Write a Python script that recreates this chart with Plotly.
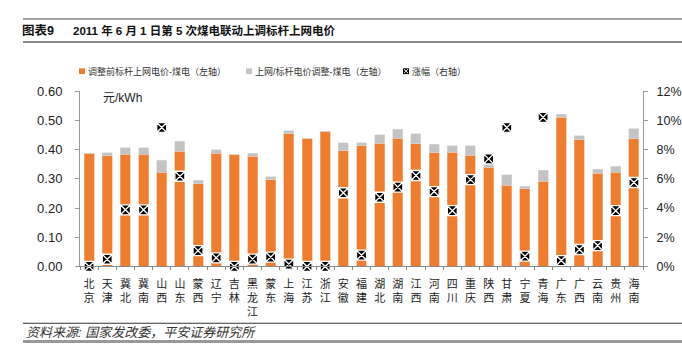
import plotly.graph_objects as go

W, H = 682, 360

provinces = ["北京", "天津", "冀北", "冀南", "山西", "山东", "蒙西", "辽宁", "吉林", "黑龙江",
             "蒙东", "上海", "江苏", "浙江", "安徽", "福建", "湖北", "湖南", "江西", "河南",
             "四川", "重庆", "陕西", "甘肃", "宁夏", "青海", "广东", "广西", "云南", "贵州", "海南"]

price_before = [0.387, 0.379, 0.385, 0.385, 0.323, 0.395, 0.283, 0.388, 0.382, 0.378,
                0.297, 0.455, 0.438, 0.464, 0.396, 0.413, 0.422, 0.439, 0.420, 0.389,
                0.392, 0.381, 0.340, 0.279, 0.266, 0.292, 0.512, 0.434, 0.320, 0.322, 0.437]

price_adjust = [0.000, 0.011, 0.022, 0.022, 0.040, 0.034, 0.012, 0.011, 0.000, 0.010,
                0.011, 0.010, 0.000, 0.000, 0.028, 0.010, 0.030, 0.031, 0.034, 0.029,
                0.022, 0.032, 0.047, 0.035, 0.009, 0.038, 0.009, 0.014, 0.013, 0.022, 0.034]

increase_pct = [0.0, 0.49, 3.88, 3.88, 9.52, 6.18, 1.08, 0.59, 0.0, 0.50,
                0.64, 0.16, 0.0, 0.0, 5.05, 0.77, 4.74, 5.44, 6.23, 5.13,
                3.82, 5.95, 7.37, 9.52, 0.70, 10.22, 0.40, 1.16, 1.43, 3.82, 5.75]

left_ticks = [0.0, 0.1, 0.2, 0.3, 0.4, 0.5, 0.6]
right_ticks = [0, 2, 4, 6, 8, 10, 12]
right_ticktext = ["0%", "2%", "4%", "6%", "8%", "10%", "12%"]

title_no = "图表9"
title_main = "2011 年 6 月 1 日第 5 次煤电联动上调标杆上网电价"
legend_names = ["调整前标杆上网电价-煤电（左轴）", "上网/标杆电价调整-煤电（左轴）", "涨幅（右轴）"]
unit_label = "元/kWh"
source_text = "资料来源: 国家发改委，平安证券研究所"

ORANGE = "#ED7D31"
GRAY = "#C3C3C3"
FONT = "Liberation Sans, Arial, Noto Sans CJK SC, sans-serif"

# plot area in pixels
PL, PR, PT, PB = 80, 643, 88, 270.7


def px(x):
    return x / W


def py(y):
    return 1 - y / H


fig = go.Figure()
fig.add_trace(go.Bar(x=provinces, y=price_before, name=legend_names[0],
                     marker=dict(color=ORANGE, line=dict(color="#F6B58C", width=0.6))))
fig.add_trace(go.Bar(x=provinces, y=price_adjust, name=legend_names[1],
                     marker=dict(color=GRAY, line=dict(color="#DADADA", width=0.6))))
fig.add_trace(go.Scatter(x=provinces, y=increase_pct, name=legend_names[2], yaxis="y2",
                         mode="markers", cliponaxis=False,
                         marker=dict(symbol="square-x", size=10, color="black",
                                     line=dict(color="white", width=1.3))))

ticktext = ["<br>".join(list(p)) for p in provinces]

fig.update_layout(
    width=W, height=H, autosize=False,
    margin=dict(l=0, r=0, t=0, b=0),
    paper_bgcolor="white", plot_bgcolor="white",
    barmode="stack", bargap=0.45,
    showlegend=False,
    font=dict(family=FONT, size=12, color="#222"),
    xaxis=dict(domain=[px(PL), px(PR)], range=[-0.5, len(provinces) - 0.5],
               tickmode="array", tickvals=provinces, ticktext=ticktext,
               tickangle=0, tickfont=dict(size=11, color="#222"),
               showline=True, linecolor="#888", linewidth=1,
               ticks="outside", tickson="boundaries", ticklen=3, tickcolor="#888",
               ticklabelstandoff=7,
               showgrid=False, zeroline=False, fixedrange=True, anchor="y"),
    yaxis=dict(domain=[py(PB), py(PT)], range=[0, 0.6], tickvals=left_ticks, tickformat=".2f",
               tickfont=dict(size=13, color="#222"),
               showline=True, linecolor="#999", linewidth=1,
               ticks="outside", ticklen=4, tickcolor="#999", ticklabelstandoff=10,
               showgrid=False, zeroline=False),
    yaxis2=dict(domain=[py(PB), py(PT)], range=[0, 12], overlaying="y", side="right", anchor="x",
                tickmode="array", tickvals=right_ticks, ticktext=right_ticktext,
                tickfont=dict(size=12.5, color="#222"),
                showline=True, linecolor="#999", linewidth=1,
                ticks="outside", ticklen=4, tickcolor="#999", ticklabelstandoff=6,
                showgrid=False, zeroline=False),
)

shapes = []
# header / footer rules
shapes.append(dict(type="line", xref="paper", yref="paper", x0=px(23), x1=1, y0=py(12.5), y1=py(12.5),
                   line=dict(color="#444", width=1)))
shapes.append(dict(type="line", xref="paper", yref="paper", x0=px(23), x1=1, y0=py(36.5), y1=py(36.5),
                   line=dict(color="#888", width=2)))
shapes.append(dict(type="line", xref="paper", yref="paper", x0=px(23), x1=1, y0=py(330), y1=py(330),
                   line=dict(color="#333", width=1)))
shapes.append(dict(type="line", xref="paper", yref="paper", x0=px(23), x1=1, y0=py(349), y1=py(349),
                   line=dict(color="#999", width=3)))

# manual legend symbols
LY = 67
shapes.append(dict(type="rect", xref="paper", yref="paper", x0=px(79), x1=px(85), y0=py(LY + 3), y1=py(LY - 3),
                   fillcolor=ORANGE, line=dict(width=0)))
shapes.append(dict(type="rect", xref="paper", yref="paper", x0=px(246), x1=px(252), y0=py(LY + 3), y1=py(LY - 3),
                   fillcolor=GRAY, line=dict(width=0)))
shapes.append(dict(type="rect", xref="paper", yref="paper", x0=px(403), x1=px(409), y0=py(LY + 3), y1=py(LY - 3),
                   fillcolor="black", line=dict(width=0)))
shapes.append(dict(type="line", xref="paper", yref="paper", x0=px(404), x1=px(408), y0=py(LY + 2), y1=py(LY - 2),
                   line=dict(color="white", width=1)))
shapes.append(dict(type="line", xref="paper", yref="paper", x0=px(404), x1=px(408), y0=py(LY - 2), y1=py(LY + 2),
                   line=dict(color="white", width=1)))
fig.update_layout(shapes=shapes)

ann = []
ann.append(dict(text="<b>" + title_no + "</b>", x=px(20), y=py(25), xref="paper", yref="paper",
                xanchor="left", yanchor="middle", showarrow=False, font=dict(size=12.5, color="#111")))
ann.append(dict(text="<b>" + title_main + "</b>", x=px(71), y=py(25), xref="paper", yref="paper",
                xanchor="left", yanchor="middle", showarrow=False, font=dict(size=11.5, color="#111")))
ann.append(dict(text=legend_names[0], x=px(86), y=py(LY), xref="paper", yref="paper",
                xanchor="left", yanchor="middle", showarrow=False, font=dict(size=9, color="#333")))
ann.append(dict(text=legend_names[1], x=px(253), y=py(LY), xref="paper", yref="paper",
                xanchor="left", yanchor="middle", showarrow=False, font=dict(size=9, color="#333")))
ann.append(dict(text=legend_names[2], x=px(410), y=py(LY), xref="paper", yref="paper",
                xanchor="left", yanchor="middle", showarrow=False, font=dict(size=9, color="#333")))
ann.append(dict(text=unit_label, x=px(101), y=py(95), xref="paper", yref="paper",
                xanchor="left", yanchor="middle", showarrow=False, font=dict(size=12, color="#222")))
ann.append(dict(text="<i>" + source_text + "</i>", x=px(24), y=py(340), xref="paper", yref="paper",
                xanchor="left", yanchor="middle", showarrow=False, font=dict(size=13, color="#333")))
fig.update_layout(annotations=ann)

fig.write_html("out.html", config={"displayModeBar": False},
               post_script="document.body.style.margin='0';")
